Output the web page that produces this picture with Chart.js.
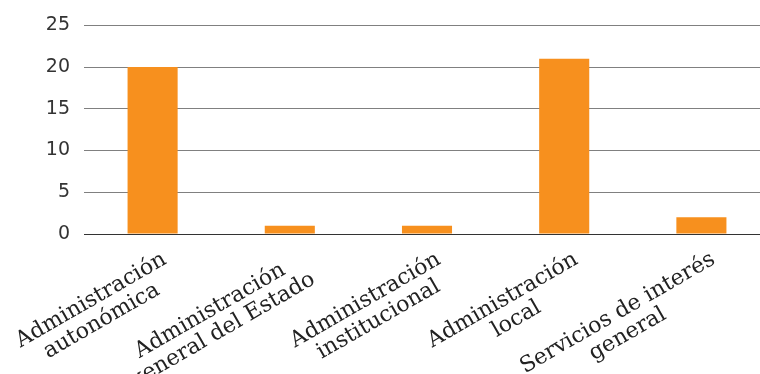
<!DOCTYPE html>
<html lang="es">
<head>
  <meta charset="UTF-8">
  <title>Administración</title>
  <script src="https://cdn.jsdelivr.net/npm/chart.js"></script>
  <style>
    html, body { margin: 0; padding: 0; background: #fff; overflow: hidden; }
    #wrap { width: 770px; height: 374px; }
  </style>
</head>
<body>
  <div id="wrap"><canvas id="chart"></canvas></div>
  <script>
    // categorías (dos líneas cada una)
    const categories = [
      ['Administración', 'autonómica'],
      ['Administración', 'general del Estado'],
      ['Administración', 'institucional'],
      ['Administración', 'local'],
      ['Servicios de interés', 'general']
    ];
    const values = [20, 1, 1, 21, 2];
    const yTicks = [0, 5, 10, 15, 20, 25];

    const labelFont = '22px "DejaVu Serif"';

    // las etiquetas giradas se alinean a la derecha; se rellenan con espacios
    // para que las líneas queden centradas como en el original
    const meas = document.createElement('canvas').getContext('2d');
    meas.font = labelFont;
    const spaceW = meas.measureText(' ').width;
    function centerLines(lines) {
      const widths = lines.map(l => meas.measureText(l).width);
      const maxW = Math.max(...widths);
      return lines.map((l, i) => l + ' '.repeat(Math.round((maxW - widths[i]) / 2 / spaceW)));
    }

    const ctx = document.getElementById('chart').getContext('2d');
    new Chart(ctx, {
      type: 'bar',
      data: {
        labels: categories,
        datasets: [{
          data: values,
          backgroundColor: '#F7901E',
          categoryPercentage: 1,
          barPercentage: 0.365
        }]
      },
      options: {
        responsive: true,
        maintainAspectRatio: false,
        animation: false,
        layout: { padding: { top: 24, left: 0, right: 0, bottom: 0 } },
        plugins: { legend: { display: false }, tooltip: { enabled: false } },
        scales: {
          x: {
            grid: { display: false },
            border: { display: false },
            afterFit: axis => {
              axis.height = 140;
              axis.paddingLeft = 0;
              axis.paddingRight = 0;
            },
            ticks: {
              minRotation: 30,
              maxRotation: 30,
              color: '#222',
              padding: 6,
              labelOffset: 12,
              callback: (v, i) => centerLines(categories[i]),
              font: { family: 'DejaVu Serif', size: 22, lineHeight: 1.05 }
            }
          },
          y: {
            min: 0,
            max: 25,
            afterBuildTicks: axis => { axis.ticks = yTicks.map(v => ({ value: v })); },
            afterFit: axis => { axis.width = 84; },
            grid: {
              drawTicks: false,
              color: c => c.tick && c.tick.value === 0 ? '#333' : '#808080'
            },
            border: { display: false },
            ticks: {
              padding: 14,
              color: '#333',
              font: { family: 'DejaVu Sans', size: 19 }
            }
          }
        }
      }
    });
  </script>
</body>
</html>
